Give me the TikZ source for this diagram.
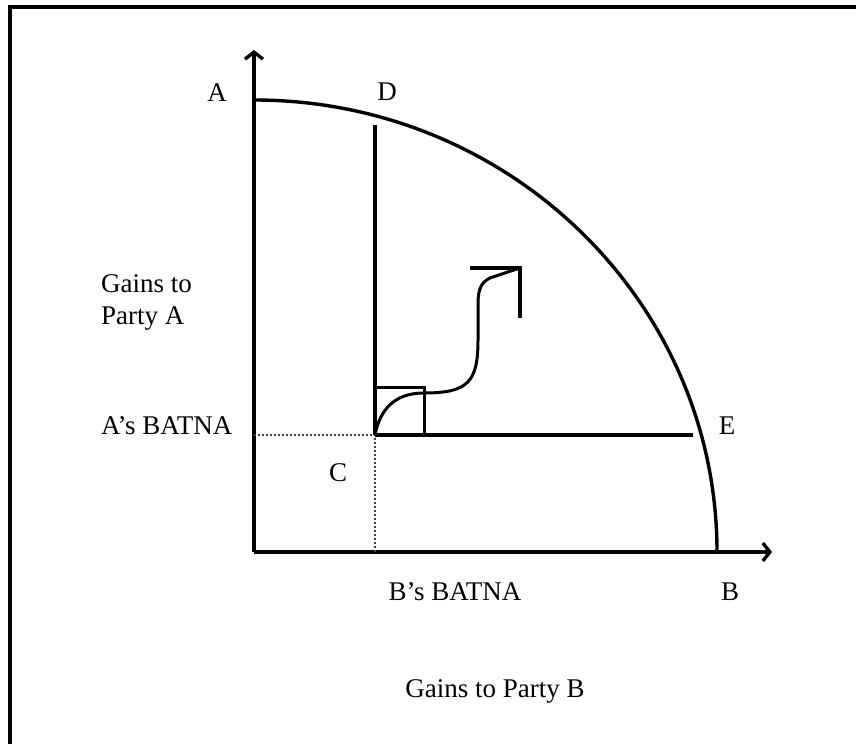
\documentclass[tikz,border=0pt]{standalone}
\usepackage{fontspec}
\setmainfont{Liberation Serif}
\usetikzlibrary{arrows.meta}
\begin{document}
\begin{tikzpicture}[x=1pt,y=1pt,
  lbl/.style={inner sep=0pt,anchor=base,font=\fontsize{27}{32}\selectfont},
  axis/.style={line width=3.6pt,-{Straight Barb[length=7pt,width=18pt,line width=3.4pt]}},
  thick line/.style={line width=3.4pt},
  dotline/.style={line width=2pt,dotted,black!75}]
\useasboundingbox (0,0) rectangle (856,744);
% frame
\draw[line width=3.8pt] (10,0) -- (10,737) -- (856,737);
% key points
\coordinate (O) at (254,192);
\coordinate (ytop) at (254,694);
\coordinate (xend) at (772,192);
\coordinate (C) at (375,309);
\coordinate (Dtop) at (375,619);
\coordinate (Eend) at (693,309);
\coordinate (Ay) at (254,309);
\coordinate (Bx) at (375,192);
\coordinate (Ptop) at (254,644);
\coordinate (boxTR) at (424,356);
\coordinate (tip) at (520,476);
\coordinate (hl) at (470,476);
\coordinate (vl) at (520,426);
% axes
\draw[axis] (O) -- (ytop);
\draw[axis] (O) -- (xend);
% frontier
\draw[thick line] (Ptop) arc[start angle=90,end angle=0,x radius=463,y radius=452];
% lines from C
\draw[thick line] (C) -- (Dtop);
\draw[thick line] (C) -- (Eend);
\draw[dotline] (Ay) -- (C) -- (Bx);
% small box
\draw[line width=3pt] (C) rectangle (boxTR);
% path
\draw[line width=3pt] (C) .. controls (380,335) and (395,351) .. (424,351)
  .. controls (468,351) and (478,362) .. (478,404) -- (478,440)
  .. controls (478,456) and (482,462) .. (490,466) -- (tip);
\draw[line width=3.4pt] (hl) -- (tip) -- (vl);
% labels
\node[lbl] (lA) at (217,642) {A};
\node[lbl] (lD) at (387,643) {D};
\node[lbl] (lE) at (727,309) {E};
\node[lbl] (lC) at (338,262) {C};
\node[lbl] (lB) at (730,143) {B};
\node[lbl,anchor=base west] (lga1) at (101,451) {Gains to};
\node[lbl,anchor=base west] (lga2) at (101,419) {Party A};
\node[lbl,anchor=base west] (lab) at (101,309) {A’s BATNA};
\node[lbl] (lbb) at (455,143) {B’s BATNA};
\node[lbl] (lgb) at (495,47) {Gains to Party B};
\end{tikzpicture}
\end{document}
